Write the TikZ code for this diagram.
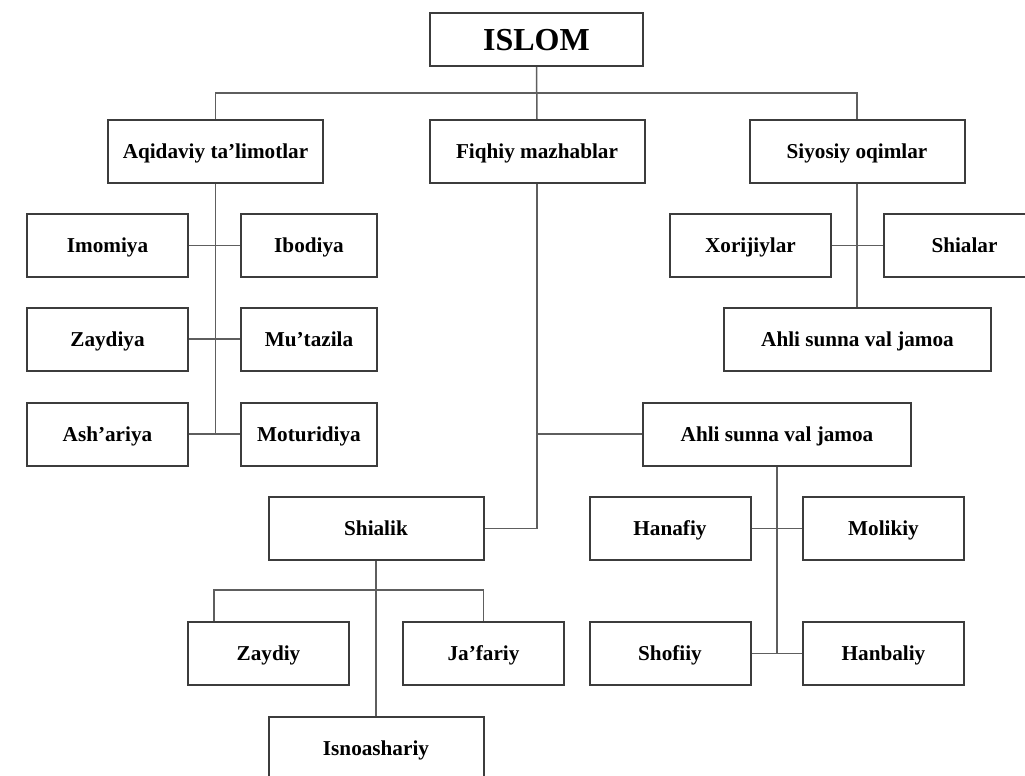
\documentclass[tikz,border=0pt]{standalone}
\usepackage{fontspec}
\setmainfont{Liberation Serif}
\begin{document}
\begin{tikzpicture}[x=0.5pt,y=-0.5pt,
  box/.style={draw=boxline, line width=1pt, fill=white, font=\fontsize{10.6}{12}\selectfont\bfseries, minimum height=31.5pt, inner sep=0pt, text height=7pt, text depth=0pt},
  wide/.style={box, minimum width=107.5pt},
  small/.style={box, minimum width=80.5pt},
  link/.style={draw=linkgray, line width=0.75pt}]
\definecolor{boxline}{HTML}{3C3C3C}
\definecolor{linkgray}{HTML}{5E5E5E}
\useasboundingbox (0,0) rectangle (1025,776);
\clip (0,0) rectangle (1025,776);
%Top:
\node[box, minimum width=106.5pt, minimum height=26.5pt, text height=10.6pt, font=\fontsize{16}{18}\selectfont\bfseries] (islom) at (536.5,39.5) {ISLOM};
\node[wide] (aqi) at (215.5,151.5) {Aqidaviy ta'limotlar};
\node[wide] (fiq) at (537,151.5) {Fiqhiy mazhablar};
\node[wide] (siy) at (857,151.5) {Siyosiy oqimlar};
\coordinate (bus) at (537,93);
\draw[link] (islom.south) -- (fiq.north);
\draw[link] (aqi.north) |- (bus) -| (siy.north);
%Aqidaviy:
\node[small] (imo) at (107.5,245.5) {Imomiya};
\node[box, minimum width=68pt] (ibo) at (309,245.5) {Ibodiya};
\node[small] (zya) at (107.5,339) {Zaydiya};
\node[box, minimum width=68pt] (mut) at (309,339) {Mu'tazila};
\node[small] (ash) at (107.5,434) {Ash'ariya};
\node[box, minimum width=68pt] (mot) at (309,434) {Moturidiya};
\draw[link] (aqi.south) -- (aqi.south |- ash.east);
\draw[link] (imo) -- (ibo);
\draw[link] (zya) -- (mut);
\draw[link] (ash) -- (mot);
%Siyosiy:
\node[small] (xor) at (750.5,245.5) {Xorijiylar};
\node[small] (shr) at (964.5,245.5) {Shialar};
\node[box, minimum width=133.5pt] (ahl1) at (857.5,339) {Ahli sunna val jamoa};
\draw[link] (siy.south) -- (siy.south |- ahl1.north);
\draw[link] (xor) -- (shr);
%Fiqhiy:
\node[box, minimum width=134pt] (ahl2) at (777,434) {Ahli sunna val jamoa};
\node[wide] (shi) at (376,528.5) {Shialik};
\draw[link] (fiq.south) |- (shi.east);
\draw[link] (fiq.south |- ahl2.west) -- (ahl2.west);
%Ahli sunna:
\node[small] (han) at (670,528.5) {Hanafiy};
\node[small] (mol) at (883.5,528.5) {Molikiy};
\node[small] (sho) at (670,653.5) {Shofiiy};
\node[small] (hnb) at (883.5,653.5) {Hanbaliy};
\draw[link] (ahl2.south) -- (ahl2.south |- sho.east);
\draw[link] (han) -- (mol);
\draw[link] (sho) -- (hnb);
%Shialik:
\node[small] (zay) at (268.5,653.5) {Zaydiy};
\node[small] (jaf) at (483.5,653.5) {Ja'fariy};
\node[wide] (isn) at (376,748.5) {Isnoashariy};
\coordinate (sbus) at (376,590);
\draw[link] (shi.south) -- (isn.north);
\draw[link] ([xshift=13.5pt]zay.north west) |- (sbus) -| (jaf.north);
\end{tikzpicture}
\end{document}
